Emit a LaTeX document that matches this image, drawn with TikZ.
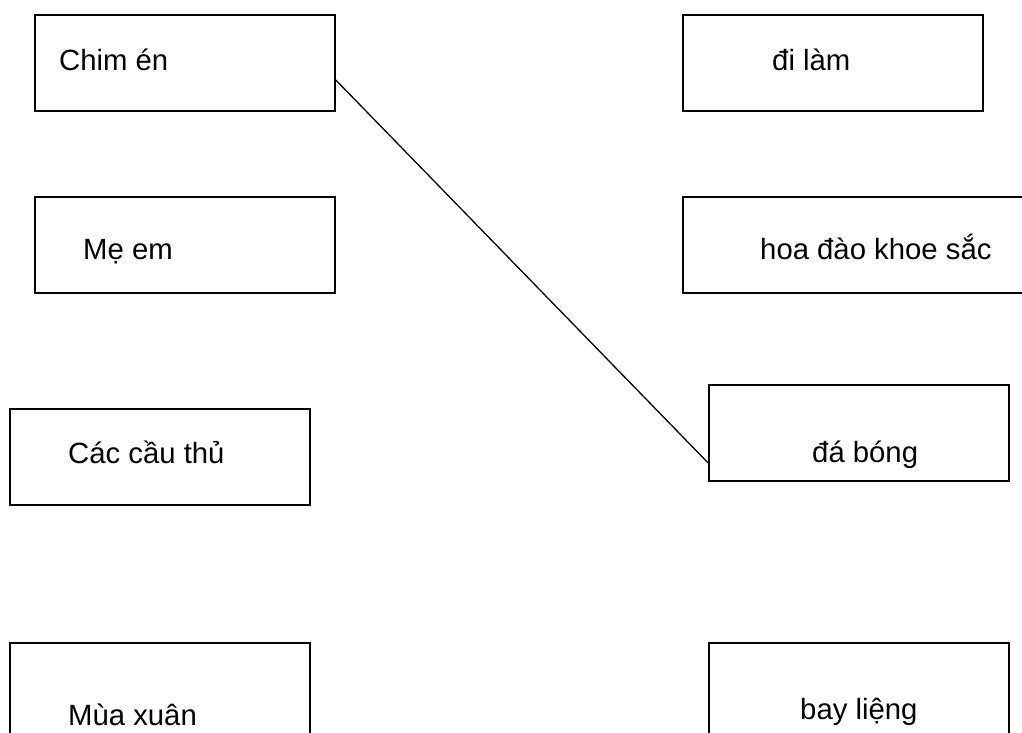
\documentclass[tikz,border=0pt]{standalone}
\usepackage{fontspec}
\setmainfont{Liberation Sans}
\usepackage{tikz}
\usetikzlibrary{positioning}

\begin{document}
\begin{tikzpicture}[x=1pt,y=-1pt]

        \tikzset{box/.style = {shape=rectangle,draw,line width=1.6pt,minimum width=300pt,minimum height=96pt,inner sep=0pt}}
        \tikzset{word/.style = {anchor=base west,inner sep=0pt,font=\fontsize{29.3}{35}\selectfont}}
        \tikzset{edge/.style = {line width=1.3pt,line cap=round}}

        \clip (0,0) rectangle (1022,733);
        \fill[white] (0,0) rectangle (1022,733);

        % left column
        \node[box] (chim) at (185,63) {};
        \node[box] (me) at (185,245) {};
        \node[box] (cauthu) at (160,457) {};
        \node[box] (muaxuan) at (160,691) {};

        % right column
        \node[box] (dilam) at (833,63) {};
        \node[box, minimum width=345pt] (hoadao) at (855.5,245) {};
        \node[box] (dabong) at (859,433) {};
        \node[box] (baylieng) at (859,691) {};

        \node[word] (chimtxt) at (59,71) {Chim én};
        \node[word] (metxt) at (83,259) {Mẹ em};
        \node[word] (cauthutxt) at (68,463) {Các cầu thủ};
        \node[word] (muaxuantxt) at (68,725) {Mùa xuân};
        \node[word] (dilamtxt) at (772,71) {đi làm};
        \node[word] (hoadaotxt) at (760,259) {hoa đào khoe sắc};
        \node[word] (dabongtxt) at (812,462) {đá bóng};
        \node[word] (bayliengtxt) at (800,719) {bay liệng};

        \draw[edge] ([yshift=-17pt]chim.east) -- ([yshift=-30pt]dabong.west);
\end{tikzpicture}
\end{document}
